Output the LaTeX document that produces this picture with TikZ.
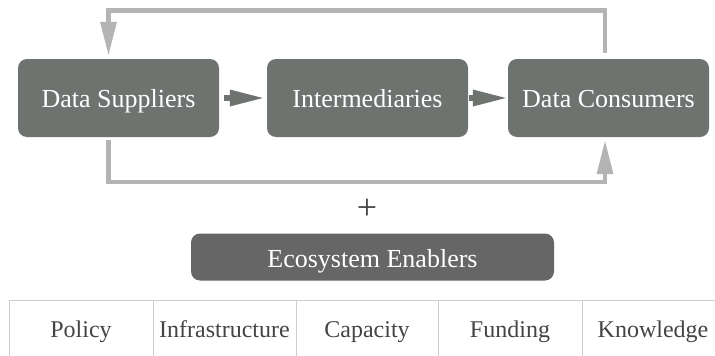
\documentclass[tikz,border=0pt]{standalone}
\usepackage{fontspec}
\setmainfont{Liberation Serif}
\usetikzlibrary{arrows.meta}
\definecolor{boxgray}{RGB}{110,115,112}
\definecolor{enablergray}{RGB}{102,102,102}
\definecolor{loopgray}{RGB}{180,180,180}
\definecolor{tablegray}{RGB}{206,206,206}
\definecolor{textdark}{RGB}{68,68,68}
\tikzset{
  mainbox/.style={fill=boxgray, rounded corners=9pt, minimum width=201pt, minimum height=78pt,
    inner sep=0pt, text=white, font=\fontsize{26}{30}\selectfont, text height=18pt, text depth=0pt},
  enabler/.style={fill=enablergray, rounded corners=9pt, minimum width=363pt, minimum height=47pt,
    inner sep=0pt, text=white, font=\fontsize{26}{30}\selectfont, text height=20pt, text depth=0pt},
  midarrow/.style={draw=boxgray, line width=6.5pt,
    -{Triangle[length=33pt,width=17pt,line width=0pt]}, shorten <=5pt, shorten >=4pt},
  loopline/.style={draw=loopgray, line width=4.5pt,
    -{Triangle[length=33pt,width=17pt,line width=0pt]}},
  plussign/.style={text=textdark, font=\fontsize{36}{40}\selectfont, inner sep=0pt},
  cell/.style={text=textdark, font=\fontsize{24}{28}\selectfont, inner sep=0pt, anchor=base},
  tableline/.style={draw=tablegray, line width=1pt}
}
\begin{document}
\begin{tikzpicture}[x=1pt,y=-1pt]
\useasboundingbox (0,0) rectangle (715,356);
% main boxes
\node[mainbox] (ds) at (118.5,98) {Data Suppliers};
\node[mainbox] (im) at (367.5,98) {Intermediaries};
\node[mainbox] (dc) at (608.5,98) {Data Consumers};
% middle arrows
\draw[midarrow] (ds) -- (im);
\draw[midarrow, shorten <=1pt, shorten >=2pt] (im) -- (dc);
% loop corners
\coordinate (tl) at (108.5,10.5);
\coordinate (tr) at (605,10.5);
\coordinate (bl) at (108.5,182);
\coordinate (br) at (605,182);
\draw[loopline] ([yshift=6pt]dc.north -| tr) -- (tr) -- (tl) -- ([yshift=4pt]ds.north -| tl);
\draw[loopline] ([yshift=-3pt]ds.south -| bl) -- (bl) -- (br) -- ([yshift=-4pt]dc.south -| br);
% plus
\node[plussign] (plus) at (367,209) {+};
% enablers
\node[enabler] (eco) at (372.5,257) {Ecosystem Enablers};
% table
\draw[tableline] (9,356) -- (9,300) -- (715,300);
\draw[tableline] (153,300) -- (153,356);
\draw[tableline] (296,300) -- (296,356);
\draw[tableline] (438,300) -- (438,356);
\draw[tableline] (582,300) -- (582,356);
\node[cell] (c1) at (81,337) {Policy};
\node[cell] (c2) at (224.5,337) {Infrastructure};
\node[cell] (c3) at (367,337) {Capacity};
\node[cell] (c4) at (510,337) {Funding};
\node[cell] (c5) at (653,337) {Knowledge};
\end{tikzpicture}
\end{document}
